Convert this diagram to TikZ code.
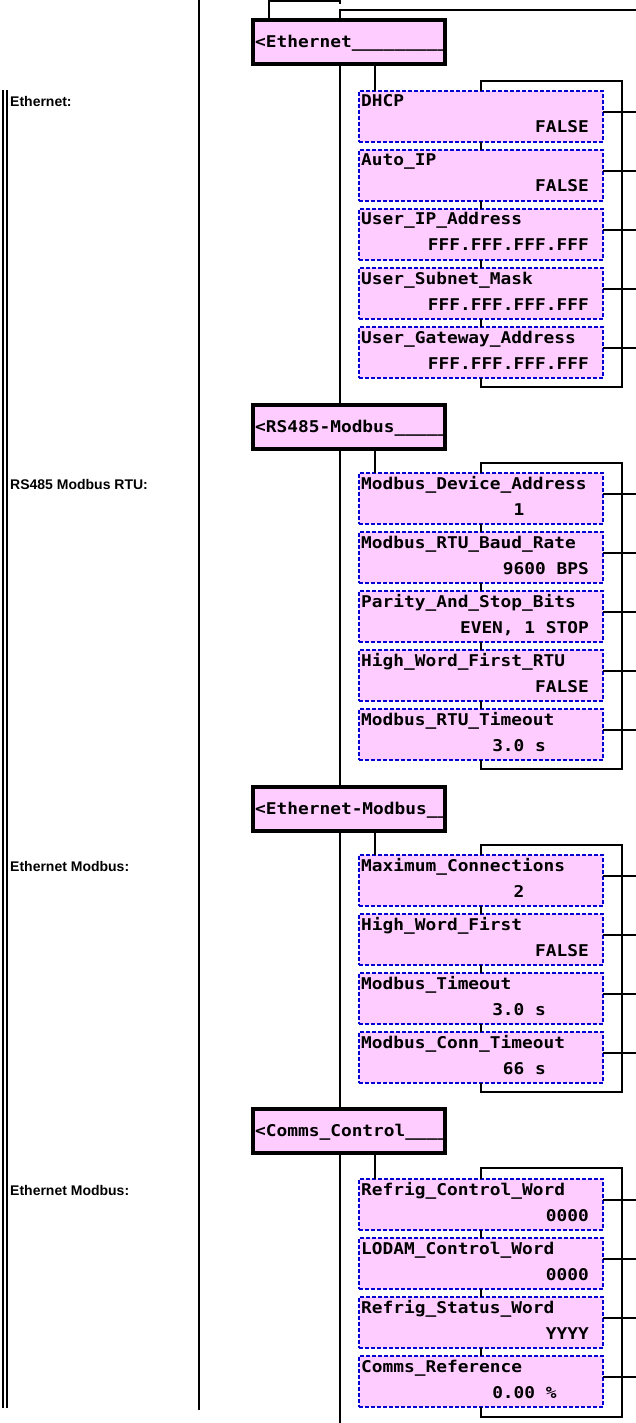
\documentclass[tikz,border=0pt]{standalone}
\usepackage{fontspec}
\newfontfamily\itemfont[FakeStretch=1.1]{DejaVu Sans Mono}
\newfontfamily\lblfont{Liberation Sans}
\definecolor{pinkfill}{RGB}{255,204,255}
\definecolor{dashblue}{RGB}{0,0,210}
\tikzset{
  conn/.style={draw=black,line width=2pt},
  item/.style={rectangle,draw=dashblue,line width=2pt,dash pattern=on 4pt off 2pt,fill=pinkfill,minimum width=244pt,minimum height=51pt,inner sep=0pt,outer sep=0pt},
  hdr/.style={rectangle,fill=pinkfill,minimum width=192pt,minimum height=44pt,inner sep=0pt,outer sep=0pt},
  hdrline/.style={draw=black,line width=4pt},
  ttl/.style={anchor=base west,inner sep=0pt,font=\itemfont\bfseries\fontsize{16.2}{18}\selectfont},
  val/.style={anchor=base east,inner sep=0pt,font=\itemfont\bfseries\fontsize{16.2}{18}\selectfont},
  lbl/.style={anchor=base west,inner sep=0pt,font=\lblfont\bfseries\fontsize{14}{16}\selectfont},
}
\newcommand\mkitem[4]{%
  \node[item] (#1) at (481,#2+26.5) {};
  \node[ttl] (#1t) at (361,#2+17) {#3};
  \node[val] (#1v) at (589,#2+43) {#4};
  \coordinate (#1r) at (636,#2+22);
  \draw[conn] (#1.east |- #1r) -- (#1r);
}
\newcommand\mkhdr[3]{%
  \node[hdr] (#1) at (349,#2+24) {};
  \begin{scope}
    \clip (#1.north west) rectangle (#1.south east);
    \node[ttl] (#1t) at (255,#2+29.5) {#3};
  \end{scope}
  \draw[hdrline] (#1.north west) rectangle (#1.south east);
}
\begin{document}
\begin{tikzpicture}[x=1pt,y=-1pt]
\useasboundingbox (0,0) rectangle (636,1423);
% left rules
\coordinate (v1) at (199,0); \coordinate (v2) at (199,1410);
\draw[conn] (v1) -- (v2);
\coordinate (dl1) at (3,90); \coordinate (dl2) at (3,1408);
\coordinate (dl3) at (7,90); \coordinate (dl4) at (7,1408);
\draw[conn] (dl1) -- (dl2);
\draw[conn] (dl3) -- (dl4);
% left labels
\node[lbl] (l1) at (10,107) {Ethernet:};
\node[lbl] (l2) at (10,489) {RS485 Modbus RTU:};
\node[lbl] (l3) at (10,871) {Ethernet Modbus:};
\node[lbl] (l4) at (10,1195) {Ethernet Modbus:};
% helper coordinates
\coordinate (bb) at (340,0);
\coordinate (hx) at (375,0);
\coordinate (bbend) at (340,1423);
% headers
\mkhdr{h1}{18}{<Ethernet\_\_\_\_\_\_\_\_\_}
\mkhdr{h2}{403}{<RS485-Modbus\_\_\_\_\_}
\mkhdr{h3}{785}{<Ethernet-Modbus\_\_}
\mkhdr{h4}{1107}{<Comms\_Control\_\_\_\_}
% top connectors
\coordinate (t1) at (269,1); \coordinate (t2) at (340,1); \coordinate (t3) at (340,4);
\draw[conn] (h1.north -| t1) -- (t1) -- (t2) -- (t3);
\coordinate (t4) at (636,10);
\draw[conn] (t4) -| (h1.north -| bb);
% backbone
\draw[conn] (h1.south -| bb) -- (h2.north -| bb);
\draw[conn] (h2.south -| bb) -- (h3.north -| bb);
\draw[conn] (h3.south -| bb) -- (h4.north -| bb);
\draw[conn] (h4.south -| bb) -- (bbend);
% group 1
\mkitem{a1}{90}{DHCP}{FALSE}
\mkitem{a2}{149}{Auto\_IP}{FALSE}
\mkitem{a3}{208}{User\_IP\_Address}{FFF.FFF.FFF.FFF}
\mkitem{a4}{267}{User\_Subnet\_Mask}{FFF.FFF.FFF.FFF}
\mkitem{a5}{326}{User\_Gateway\_Address}{FFF.FFF.FFF.FFF}
% group 2
\mkitem{b1}{472}{Modbus\_Device\_Address}{1\phantom{000000}}
\mkitem{b2}{531}{Modbus\_RTU\_Baud\_Rate}{9600 BPS}
\mkitem{b3}{590}{Parity\_And\_Stop\_Bits}{EVEN, 1 STOP}
\mkitem{b4}{649}{High\_Word\_First\_RTU}{FALSE}
\mkitem{b5}{708}{Modbus\_RTU\_Timeout}{3.0 s\phantom{0000}}
% group 3
\mkitem{c1}{854}{Maximum\_Connections}{2\phantom{000000}}
\mkitem{c2}{913}{High\_Word\_First}{FALSE}
\mkitem{c3}{972}{Modbus\_Timeout}{3.0 s\phantom{0000}}
\mkitem{c4}{1031}{Modbus\_Conn\_Timeout}{66 s\phantom{0000}}
% group 4
\mkitem{d1}{1178}{Refrig\_Control\_Word}{0000}
\mkitem{d2}{1237}{LODAM\_Control\_Word}{0000}
\mkitem{d3}{1296}{Refrig\_Status\_Word}{YYYY}
\mkitem{d4}{1355}{Comms\_Reference}{0.00 \%\phantom{000}}
% header to first item
\draw[conn] (h1.south -| hx) -- (a1.north -| hx);
\draw[conn] (h2.south -| hx) -- (b1.north -| hx);
\draw[conn] (h3.south -| hx) -- (c1.north -| hx);
\draw[conn] (h4.south -| hx) -- (d1.north -| hx);
% ticks between items
\draw[conn] (a1.south) -- (a2.north);
\draw[conn] (a2.south) -- (a3.north);
\draw[conn] (a3.south) -- (a4.north);
\draw[conn] (a4.south) -- (a5.north);
\draw[conn] (b1.south) -- (b2.north);
\draw[conn] (b2.south) -- (b3.north);
\draw[conn] (b3.south) -- (b4.north);
\draw[conn] (b4.south) -- (b5.north);
\draw[conn] (c1.south) -- (c2.north);
\draw[conn] (c2.south) -- (c3.north);
\draw[conn] (c3.south) -- (c4.north);
\draw[conn] (d1.south) -- (d2.north);
\draw[conn] (d2.south) -- (d3.north);
\draw[conn] (d3.south) -- (d4.north);
% loop brackets
\coordinate (g1t) at (622,81);   \coordinate (g1b) at (622,387);
\coordinate (g2t) at (622,463);  \coordinate (g2b) at (622,769);
\coordinate (g3t) at (622,845);  \coordinate (g3b) at (622,1092);
\coordinate (g4t) at (622,1168); \coordinate (g4b) at (622,1417);
\draw[conn] (a1.north) |- (g1t) -- (g1b) -| (a5.south);
\draw[conn] (b1.north) |- (g2t) -- (g2b) -| (b5.south);
\draw[conn] (c1.north) |- (g3t) -- (g3b) -| (c4.south);
\draw[conn] (d1.north) |- (g4t) -- (g4b) -| (d4.south);
\end{tikzpicture}
\end{document}
